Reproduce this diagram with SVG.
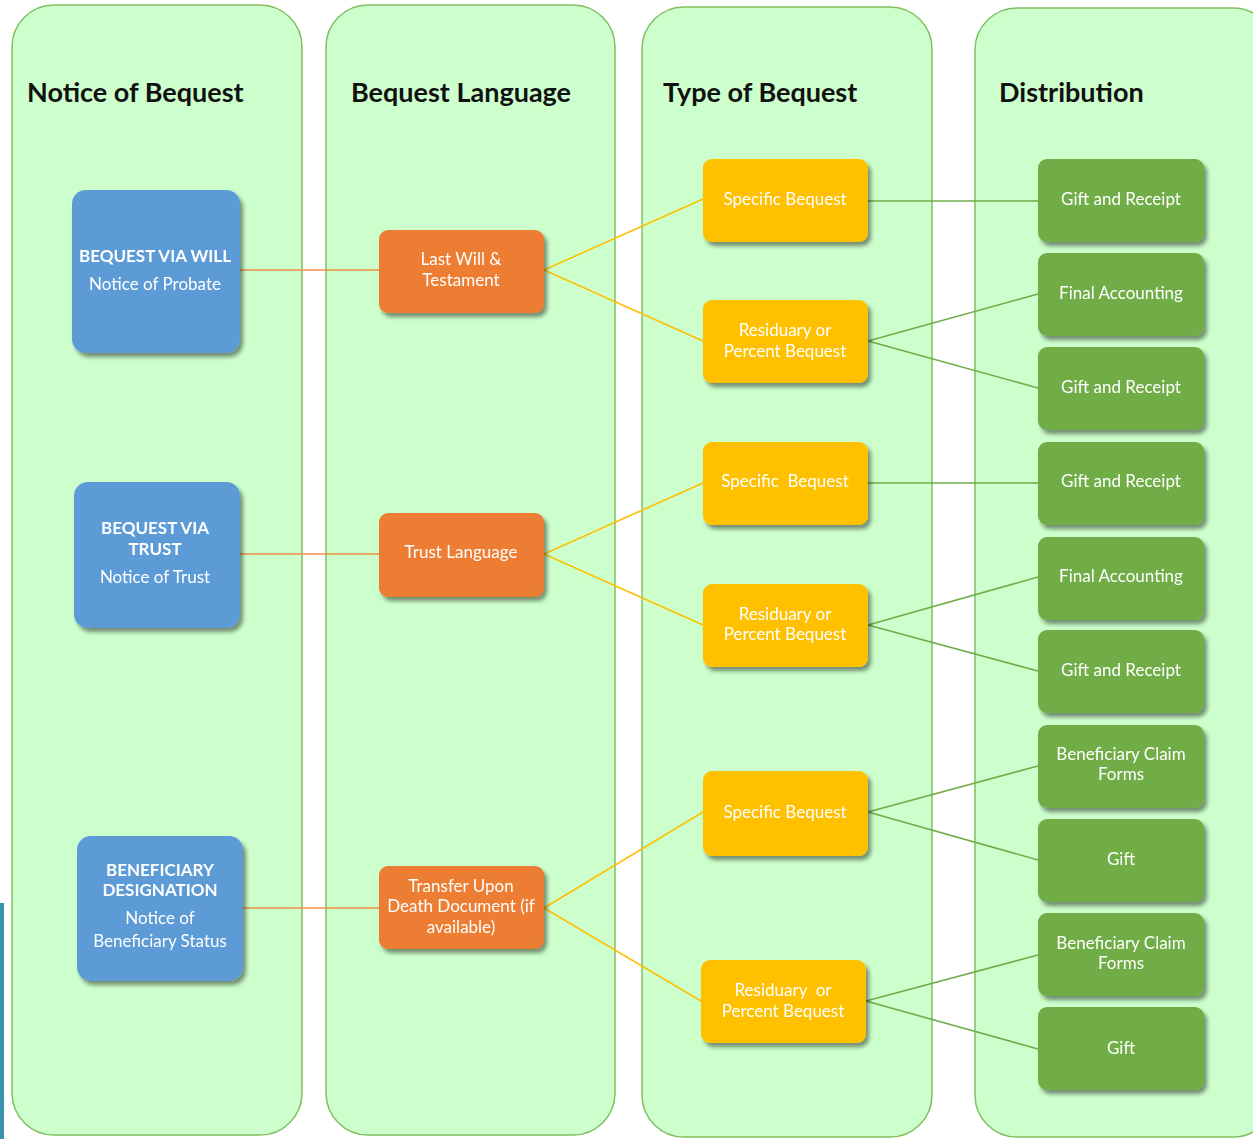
<svg xmlns="http://www.w3.org/2000/svg" width="1253" height="1139" viewBox="0 0 1253 1139">
<defs>
<filter id="sh" x="-10%" y="-10%" width="130%" height="130%">
<feGaussianBlur in="SourceAlpha" stdDeviation="2"/>
<feOffset dx="3" dy="4" result="b"/>
<feComponentTransfer><feFuncA type="linear" slope="0.45"/></feComponentTransfer>
<feMerge><feMergeNode/><feMergeNode in="SourceGraphic"/></feMerge>
</filter>
</defs>
<style>
.lane{fill:#ccffcc;stroke:#80bf60;stroke-width:1.5}
.hdr{font-family:Lato,"Open Sans",sans-serif;font-weight:bold;font-size:27px;fill:#111}
.blue{fill:#5b9bd5}
.orange{fill:#ed7d31}
.yellow{fill:#ffc000}
.green{fill:#70ad47}
.t{font-family:Lato,"Open Sans",sans-serif;font-size:17px;fill:#fff;text-anchor:middle}
.b{font-weight:bold}
.co{stroke:#f0904a;stroke-width:1.6;fill:none}
.cy{stroke:#ffc000;stroke-width:1.6;fill:none}
.cg{stroke:#70ad47;stroke-width:1.6;fill:none}
</style>
<rect width="1253" height="1139" fill="#ffffff"/>
<rect x="0" y="903" width="4" height="236" fill="#3a93ad"/>
<g id="lanes">
<rect class="lane" x="12" y="5" width="290" height="1130" rx="42"/>
<rect class="lane" x="326" y="5" width="289" height="1130" rx="42"/>
<rect class="lane" x="642" y="7" width="290" height="1130" rx="42"/>
<rect class="lane" x="975" y="8" width="300" height="1129" rx="42"/>
<text class="hdr" x="27" y="102">Notice of Bequest</text>
<text class="hdr" x="351" y="102">Bequest Language</text>
<text class="hdr" x="663" y="102">Type of Bequest</text>
<text class="hdr" x="999" y="102">Distribution</text>
</g>
<g id="connectors">
<line class="co" x1="240" y1="270" x2="379" y2="270"/>
<line class="co" x1="240" y1="554" x2="379" y2="554"/>
<line class="co" x1="243" y1="908" x2="379" y2="908"/>
<path class="cy" d="M703,199 L544,270 L703,341"/>
<path class="cy" d="M703,483 L544,554 L703,625"/>
<path class="cy" d="M703,812 L544,908 L701,1001"/>
<line class="cg" x1="868" y1="201" x2="1038" y2="201"/>
<path class="cg" d="M1038,294 L868,341 L1038,388"/>
<line class="cg" x1="868" y1="483" x2="1038" y2="483"/>
<path class="cg" d="M1038,577 L868,625 L1038,671"/>
<path class="cg" d="M1038,766 L868,812 L1038,860"/>
<path class="cg" d="M1038,955 L866,1001 L1038,1049"/>
</g>
<g id="n-will" filter="url(#sh)"><rect class="blue" x="72" y="190" width="168" height="163" rx="14"/>
<text class="t b" x="155" y="262">BEQUEST VIA WILL</text><text class="t" x="155" y="290">Notice of Probate</text></g>
<g id="n-trust" filter="url(#sh)"><rect class="blue" x="74" y="482" width="166" height="146" rx="14"/>
<text class="t b" x="155" y="534">BEQUEST VIA</text><text class="t b" x="155" y="555">TRUST</text><text class="t" x="155" y="583">Notice of Trust</text></g>
<g id="n-benef" filter="url(#sh)"><rect class="blue" x="77" y="836" width="166" height="145" rx="14"/>
<text class="t b" x="160" y="876">BENEFICIARY</text><text class="t b" x="160" y="896">DESIGNATION</text><text class="t" x="160" y="924">Notice of</text><text class="t" x="160" y="947">Beneficiary Status</text></g>
<g id="o-will" filter="url(#sh)"><rect class="orange" x="379" y="230" width="165" height="83" rx="9"/>
<text class="t" x="461" y="265">Last Will &amp;</text><text class="t" x="461" y="286">Testament</text></g>
<g id="o-trust" filter="url(#sh)"><rect class="orange" x="379" y="513" width="165" height="84" rx="9"/>
<text class="t" x="461" y="558">Trust Language</text></g>
<g id="o-tod" filter="url(#sh)"><rect class="orange" x="379" y="866" width="165" height="83" rx="9"/>
<text class="t" x="461" y="892">Transfer Upon</text><text class="t" x="461" y="912">Death Document (if</text><text class="t" x="461" y="933">available)</text></g>
<g id="y1" filter="url(#sh)"><rect class="yellow" x="703" y="159" width="165" height="83" rx="9"/><text class="t" x="785" y="205">Specific Bequest</text></g>
<g id="y2" filter="url(#sh)"><rect class="yellow" x="703" y="300" width="165" height="83" rx="9"/><text class="t" x="785" y="336">Residuary or</text><text class="t" x="785" y="357">Percent Bequest</text></g>
<g id="y3" filter="url(#sh)"><rect class="yellow" x="703" y="442" width="165" height="83" rx="9"/><text class="t" x="785" y="487" style="white-space:pre">Specific  Bequest</text></g>
<g id="y4" filter="url(#sh)"><rect class="yellow" x="703" y="584" width="165" height="83" rx="9"/><text class="t" x="785" y="620">Residuary or</text><text class="t" x="785" y="640">Percent Bequest</text></g>
<g id="y5" filter="url(#sh)"><rect class="yellow" x="703" y="771" width="165" height="85" rx="9"/><text class="t" x="785" y="818">Specific Bequest</text></g>
<g id="y6" filter="url(#sh)"><rect class="yellow" x="701" y="960" width="165" height="83" rx="9"/><text class="t" x="783" y="996" style="white-space:pre">Residuary  or</text><text class="t" x="783" y="1017">Percent Bequest</text></g>
<g id="g1" filter="url(#sh)"><rect class="green" x="1038" y="159" width="166" height="83" rx="9"/><text class="t" x="1121" y="205">Gift and Receipt</text></g>
<g id="g2" filter="url(#sh)"><rect class="green" x="1038" y="253" width="166" height="83" rx="9"/><text class="t" x="1121" y="299">Final Accounting</text></g>
<g id="g3" filter="url(#sh)"><rect class="green" x="1038" y="347" width="166" height="83" rx="9"/><text class="t" x="1121" y="393">Gift and Receipt</text></g>
<g id="g4" filter="url(#sh)"><rect class="green" x="1038" y="442" width="166" height="83" rx="9"/><text class="t" x="1121" y="487">Gift and Receipt</text></g>
<g id="g5" filter="url(#sh)"><rect class="green" x="1038" y="537" width="166" height="83" rx="9"/><text class="t" x="1121" y="582">Final Accounting</text></g>
<g id="g6" filter="url(#sh)"><rect class="green" x="1038" y="630" width="166" height="83" rx="9"/><text class="t" x="1121" y="676">Gift and Receipt</text></g>
<g id="g7" filter="url(#sh)"><rect class="green" x="1038" y="725" width="166" height="83" rx="9"/><text class="t" x="1121" y="760">Beneficiary Claim</text><text class="t" x="1121" y="780">Forms</text></g>
<g id="g8" filter="url(#sh)"><rect class="green" x="1038" y="819" width="166" height="83" rx="9"/><text class="t" x="1121" y="865">Gift</text></g>
<g id="g9" filter="url(#sh)"><rect class="green" x="1038" y="913" width="166" height="83" rx="9"/><text class="t" x="1121" y="949">Beneficiary Claim</text><text class="t" x="1121" y="969">Forms</text></g>
<g id="g10" filter="url(#sh)"><rect class="green" x="1038" y="1007" width="166" height="83" rx="9"/><text class="t" x="1121" y="1054">Gift</text></g>
</svg>
